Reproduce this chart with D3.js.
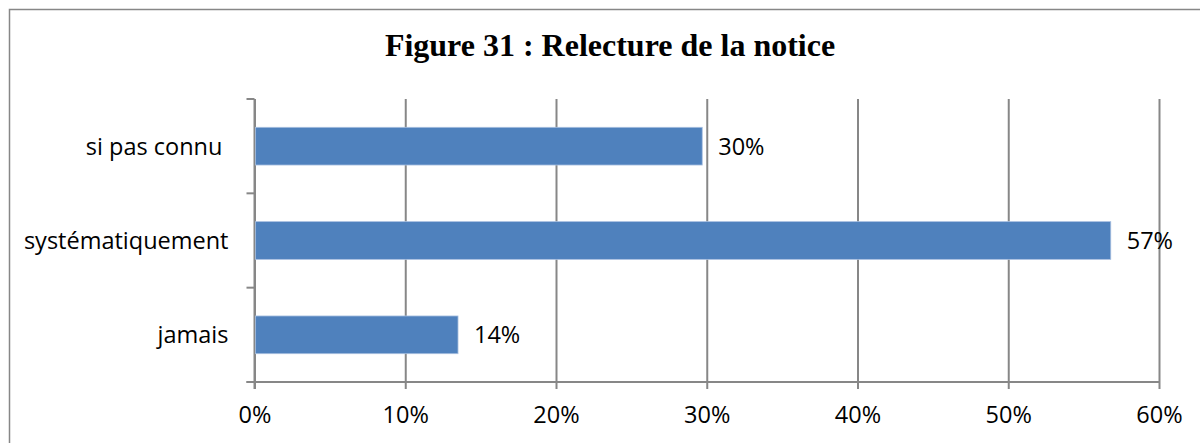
<!DOCTYPE html>
<html lang="fr">
<head>
    <meta charset="UTF-8">
    <title>Figure 31 : Relecture de la notice</title>
    <script src="https://d3js.org/d3.v7.min.js"></script>
    <style>
        body { margin: 0; background: #fff; }
        .axis text { font-family: "Open Sans", sans-serif; font-size: 23.5px; fill: #000; }
        .label { font-family: "Open Sans", sans-serif; font-size: 23.5px; fill: #000; }
        .title { font-family: "Liberation Serif", "Times New Roman", serif; font-size: 32px; font-weight: bold; }
    </style>
</head>
<body>
    <svg id="chart" width="1200" height="443"></svg>
    <script>
        // Data
        const categories = ["si pas connu ", "systématiquement", "jamais"];
        const values = [0.297, 0.568, 0.135];
        const tickValues = [0, 0.1, 0.2, 0.3, 0.4, 0.5, 0.6];

        const svg = d3.select("#chart");
        const gray = "#878787";

        // outer frame
        svg.append("rect")
            .attr("x", 9.5).attr("y", 9.5)
            .attr("width", 1220).attr("height", 460)
            .attr("fill", "none").attr("stroke", gray).attr("stroke-width", 1.5);

        svg.append("text")
            .attr("class", "title")
            .attr("x", 610).attr("y", 56)
            .attr("text-anchor", "middle")
            .text("Figure 31 : Relecture de la notice");

        const plot = { left: 254.5, right: 1159, top: 99, bottom: 382 };

        const x = d3.scaleLinear().domain([0, 0.6]).range([plot.left, plot.right]);
        const y = d3.scaleBand().domain(categories).range([plot.top, plot.bottom])
            .paddingInner(0.6).paddingOuter(0.3);

        // gridlines
        svg.append("g")
            .attr("transform", "translate(0," + plot.bottom + ")")
            .call(d3.axisBottom(x).tickValues(tickValues).tickSize(-(plot.bottom - plot.top)).tickFormat(""))
            .call(g => g.select(".domain").remove())
            .selectAll("line").attr("stroke", gray).attr("stroke-width", 2);

        // x axis ticks + labels
        const xAxis = svg.append("g")
            .attr("class", "axis")
            .attr("transform", "translate(0," + plot.bottom + ")")
            .call(d3.axisBottom(x).tickValues(tickValues).tickSizeInner(7).tickSizeOuter(0)
                .tickPadding(17).tickFormat(d3.format(".0%")));
        xAxis.select(".domain").remove();
        xAxis.selectAll("line").attr("stroke", gray).attr("stroke-width", 2);

        // x axis line (extends to the left tick)
        svg.append("line")
            .attr("x1", plot.left - 8).attr("x2", plot.right)
            .attr("y1", plot.bottom).attr("y2", plot.bottom)
            .attr("stroke", gray).attr("stroke-width", 2);

        // y axis line and boundary ticks
        svg.append("line")
            .attr("x1", plot.left).attr("x2", plot.left)
            .attr("y1", plot.top).attr("y2", plot.bottom + 7)
            .attr("stroke", gray).attr("stroke-width", 2);

        const bounds = d3.range(categories.length + 1).map(i => plot.top + i * y.step());
        svg.selectAll(".ytick")
            .data(bounds)
            .enter().append("line")
            .attr("class", "ytick")
            .attr("x1", plot.left - 8).attr("x2", plot.left)
            .attr("y1", d => d).attr("y2", d => d)
            .attr("stroke", gray).attr("stroke-width", 2);

        // category labels
        const yAxis = svg.append("g")
            .attr("class", "axis")
            .attr("transform", "translate(" + plot.left + ",0)")
            .call(d3.axisLeft(y).tickSize(0).tickPadding(26));
        yAxis.select(".domain").remove();
        yAxis.selectAll("text").style("white-space", "pre").attr("dy", "0.36em");

        // bars
        svg.selectAll(".bar")
            .data(categories)
            .enter().append("rect")
            .attr("class", "bar")
            .attr("x", x(0) + 1)
            .attr("y", d => y(d))
            .attr("width", (d, i) => x(values[i]) - x(0) - 1)
            .attr("height", y.bandwidth())
            .attr("fill", "#4f81bd")
            .attr("stroke", "#a9c0e0").attr("stroke-width", 0.8);

        // value labels
        svg.selectAll(".label")
            .data(categories)
            .enter().append("text")
            .attr("class", "label")
            .attr("x", (d, i) => x(values[i]) + 16)
            .attr("y", d => y(d) + y.bandwidth() / 2)
            .attr("dy", "0.36em")
            .text((d, i) => Math.round(values[i] * 100) + "%");
    </script>
</body>
</html>
